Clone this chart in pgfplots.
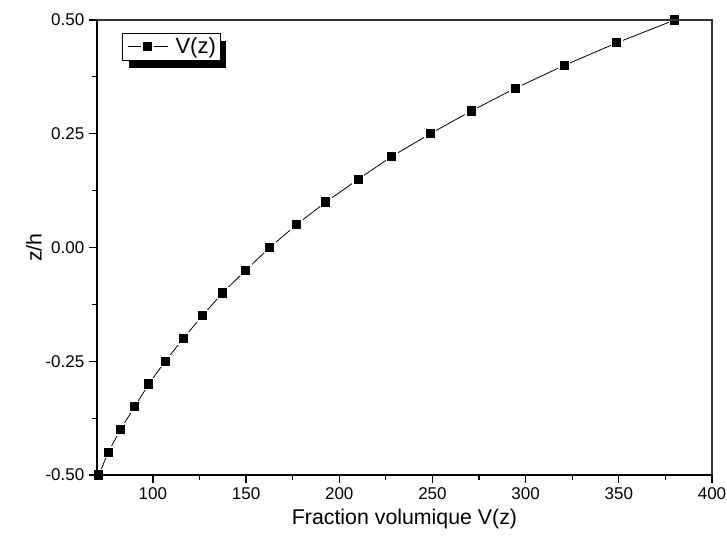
\documentclass[border=0pt]{standalone}
\usepackage{pgfplots}
\pgfplotsset{compat=1.18}
\usepackage{fontspec}
\setmainfont{Liberation Sans}
\pgfdeclarelayer{background}
\pgfsetlayers{background,main}
\begin{document}
\begin{tikzpicture}
\begin{axis}[
  scale only axis,
  width=461.25pt, height=341.25pt,
  xmin=70, xmax=400, ymin=-0.5, ymax=0.5,
  xtick={100,150,...,400},
  minor x tick num=1,
  ytick={-0.5,-0.25,0,0.25,0.5},
  minor y tick num=1,
  tick align=outside,
  xtick pos=bottom, ytick pos=left,
  major tick length=6pt, minor tick length=3.75pt,
  every tick/.style={black, line width=0.9pt},
  axis x line*=bottom, axis y line*=left,
  axis line style={black, line width=1.4pt, -},
  /pgf/number format/assume math mode=true,
  yticklabel style={/pgf/number format/fixed, /pgf/number format/fixed zerofill, /pgf/number format/precision=2, font=\fontsize{12.75}{14}\selectfont},
  xticklabel style={font=\fontsize{12.75}{14}\selectfont},
  scaled ticks=false,
  xlabel={Fraction volumique V(z)},
  ylabel={z/h},
  xlabel style={font=\fontsize{16}{18}\selectfont},
  ylabel style={font=\fontsize{16}{18}\selectfont, yshift=-4pt},
  clip mode=individual,
  axis on top,
  legend style={at={(0.042,0.971)}, anchor=north west, draw=black, line width=0.6pt,
    font=\fontsize{16.5}{18}\selectfont, inner sep=1.5pt, outer sep=0pt,
    fill=white, name=leg},
  legend cell align=left,
  legend image code/.code={%
    \path[draw=none,fill=none] (0pt,0pt) -- (36pt,0pt);
    \draw[mark repeat=2,mark phase=2,line width=0.6pt] plot coordinates {(2pt,0pt) (17pt,0pt) (32pt,0pt)};},
]
\addplot[black, line width=0.6pt, mark=square*, mark size=4pt,
  mark options={fill=black, draw=white, line width=1.2pt}]
  coordinates {
(71,-0.5) (76,-0.45) (82.6,-0.4) (90.2,-0.35) (97.8,-0.3) (106.6,-0.25)
(116.3,-0.2) (126.5,-0.15) (137.3,-0.1) (149.8,-0.05) (162.7,0)
(177,0.05) (192.8,0.1) (210.2,0.15) (228.1,0.2) (248.8,0.25)
(270.8,0.3) (294.5,0.35) (320.6,0.4) (349,0.45) (380,0.5)
};
\addlegendentry{V(z)}
\draw[line width=0.8pt, black!80] (rel axis cs:0,1) -- (rel axis cs:1,1) -- (rel axis cs:1,0);
\end{axis}
\begin{pgfonlayer}{background}
\fill[black] ([shift={(4.5pt,-5.5pt)}]leg.south west) rectangle ([shift={(4.5pt,-5.5pt)}]leg.north east);
\end{pgfonlayer}
\pgfresetboundingbox
\path ([shift={(-72.75pt,-51.75pt)}]current axis.south west) rectangle ([shift={(11.25pt,15pt)}]current axis.north east);
\end{tikzpicture}
\end{document}
